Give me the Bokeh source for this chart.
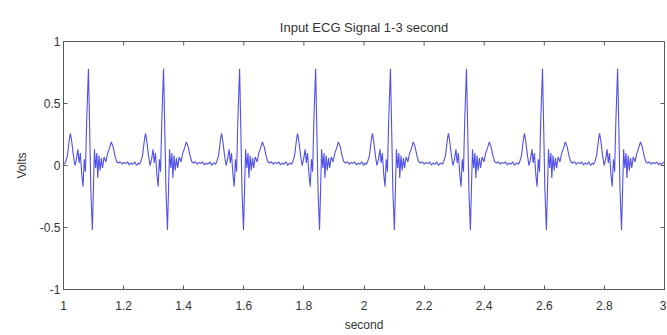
import math
from bokeh.plotting import figure
from bokeh.models import FixedTicker, CustomJSTickFormatter, Range1d, ColumnDataSource, LinearAxis
from bokeh.embed import file_html
from bokeh.resources import INLINE

# ---- data ----
# R-peak times (s) of the eight beats
r_peak_times = [1.083, 1.333, 1.586, 1.839, 2.088, 2.341, 2.594, 2.844]
# one beat: offset from R peak (ms) and amplitude (V)
beat_offset_ms = [-86, -80, -76, -70, -63, -60, -56, -50, -45, -40, -35, -31, -27, -22, -18,
                  -14, -10, -6, 0, 4, 8, 13, 17, 20, 24, 28, 31, 35, 39, 43, 47, 52, 58,
                  64, 70, 76, 82, 88, 94, 100, 106, 112, 118, 124, 130, 136, 142, 148,
                  154, 160, 166]
beat_volts = [0.02, 0.01, 0.03, 0.08, 0.22, 0.26, 0.20, 0.08, 0.00, 0.05, 0.13, 0.02, 0.10, -0.08, -0.17,
              0.05, -0.05, 0.35, 0.78, 0.30, -0.20, -0.52, -0.15, 0.13, -0.02, 0.10, -0.10, 0.08, -0.04, 0.06, -0.02, 0.07, 0.03,
              0.10, 0.14, 0.19, 0.15, 0.08, 0.03, 0.02, 0.03, 0.01, 0.025, 0.015, 0.03, 0.005, 0.02, 0.01,
              0.03, 0.00, 0.02]
x_ticks = [1, 1.2, 1.4, 1.6, 1.8, 2, 2.2, 2.4, 2.6, 2.8, 3]
y_ticks = [-1, -0.5, 0, 0.5, 1]
title_text = "Input ECG Signal 1-3 second"
x_label = "second"
y_label = "Volts"

t_vals, v_vals = [], []
for r in r_peak_times:
    for ms, v in zip(beat_offset_ms, beat_volts):
        t = r + ms / 1000.0
        if 1.0 <= t <= 3.0:
            t_vals.append(t)
            v_vals.append(v)

src = ColumnDataSource(data=dict(t=t_vals, v=v_vals))

FONT = "Liberation Sans"
AX = "#5a5a5a"
TXT = "#333333"

x_min, x_max = x_ticks[0], x_ticks[-1]
y_min, y_max = y_ticks[0], y_ticks[-1]

p = figure(width=666, height=334, output_backend="svg", toolbar_location=None,
           x_range=Range1d(x_min, x_max), y_range=Range1d(y_min, y_max),
           min_border_left=63, min_border_right=2, min_border_top=41, min_border_bottom=43)

xaxis = p.below[0]
yaxis = p.left[0]

p.line("t", "v", source=src, line_color="#5050ec", line_width=1.1)

# inward ticks on the top and right edges of the box
p.ray(x=x_ticks, y=[y_max] * len(x_ticks), length=4, length_units="screen",
      angle=-math.pi / 2, line_color=AX, line_width=1)
p.ray(x=[x_max] * len(y_ticks), y=y_ticks, length=4, length_units="screen",
      angle=math.pi, line_color=AX, line_width=1)

p.xgrid.visible = False
p.ygrid.visible = False
p.outline_line_color = AX
p.background_fill_color = "white"
p.border_fill_color = "white"

fmt = CustomJSTickFormatter(code="return tick.toString();")
for ax, ticks in ((xaxis, x_ticks), (yaxis, y_ticks)):
    ax.ticker = FixedTicker(ticks=ticks)
    ax.formatter = fmt
    ax.major_tick_in = 4
    ax.major_tick_out = 0
    ax.minor_tick_in = 0
    ax.minor_tick_out = 0
    ax.axis_line_color = AX
    ax.major_tick_line_color = AX
    ax.major_label_text_font = FONT
    ax.major_label_text_font_size = "12px"
    ax.major_label_text_color = TXT
    ax.axis_label_text_font = FONT
    ax.axis_label_text_font_size = "12px"
    ax.axis_label_text_font_style = "normal"
    ax.axis_label_text_color = TXT

xaxis.axis_label = x_label
yaxis.axis_label = y_label
xaxis.major_label_standoff = 11
xaxis.axis_label_standoff = 5
yaxis.major_label_standoff = 3
yaxis.axis_label_standoff = 8

# an empty spacer axis above the box lifts the title to its place
spacer = LinearAxis(ticker=FixedTicker(ticks=[]))
spacer.major_tick_out = 13
spacer.major_tick_in = 0
spacer.minor_tick_out = 0
spacer.minor_tick_in = 0
spacer.major_label_standoff = 0
spacer.axis_label_standoff = 0
spacer.major_tick_line_color = None
spacer.minor_tick_line_color = None
spacer.axis_line_color = None
p.add_layout(spacer, "above")

p.title.text = title_text
p.title.align = "center"
p.title.text_font = FONT
p.title.text_font_size = "13px"
p.title.text_font_style = "normal"
p.title.text_color = TXT
p.title.standoff = 13

open("out.html", "w").write(file_html(p, INLINE))
